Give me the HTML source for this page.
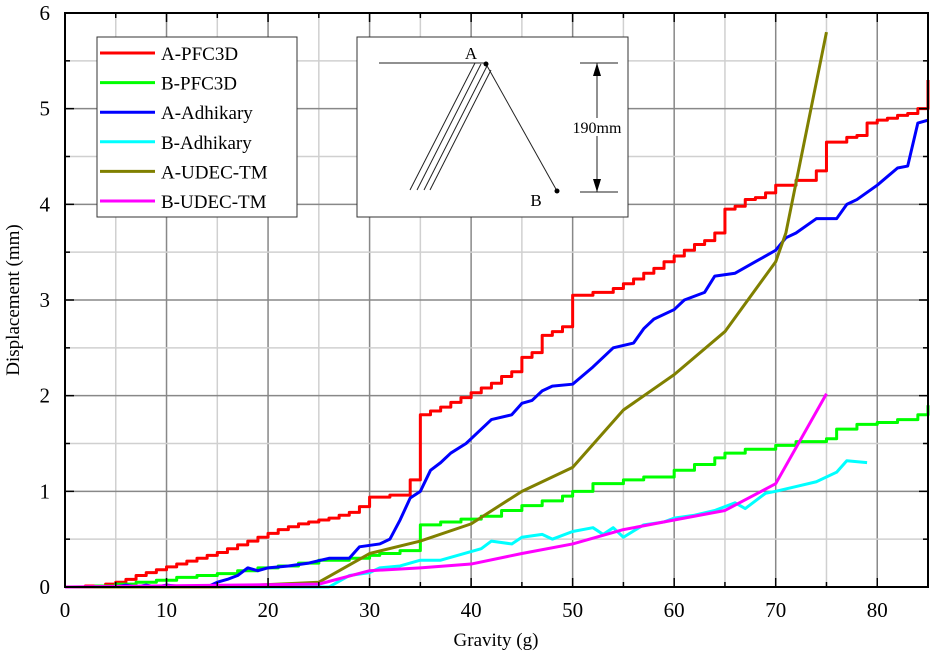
<!DOCTYPE html>
<html><head><meta charset="utf-8"><style>
html,body{margin:0;padding:0;background:#fff;}
svg{display:block;font-family:"Liberation Serif",serif;}
</style></head><body>
<svg id="chart" width="931" height="661" viewBox="0 0 931 661">
<g id="grid"></g>
<g id="series"></g>
<rect x="65" y="13" width="863" height="574" fill="none" stroke="#000" stroke-width="2"/>
<g id="ticks"></g>
<text x="496" y="646" text-anchor="middle" font-size="19">Gravity (g)</text>
<text transform="translate(19,300) rotate(-90)" text-anchor="middle" font-size="19">Displacement (mm)</text>
<g>
<rect x="97" y="37" width="200" height="180" fill="#fff" stroke="#333" stroke-width="1"/>
<g id="legend-items"></g>
</g>
<g>
<rect x="357" y="37" width="271" height="180" fill="#fff" stroke="#333" stroke-width="1"/>
<line x1="379" y1="63" x2="486" y2="63" stroke="#222" stroke-width="1"/>
<line x1="486" y1="64" x2="557" y2="191" stroke="#222" stroke-width="1"/>
<line x1="410" y1="190" x2="475" y2="63" stroke="#222"/>
<line x1="417" y1="190" x2="481" y2="64" stroke="#222"/>
<line x1="424" y1="190" x2="487" y2="66" stroke="#222"/>
<line x1="430" y1="190" x2="491" y2="70" stroke="#222"/>
<circle cx="486" cy="64" r="2.5" fill="#000"/>
<circle cx="557" cy="191" r="2.5" fill="#000"/>
<text x="471" y="59" font-size="17" text-anchor="middle">A</text>
<text x="536" y="206" font-size="17" text-anchor="middle">B</text>
<line x1="580" y1="63" x2="618" y2="63" stroke="#222"/>
<line x1="580" y1="192" x2="618" y2="192" stroke="#222"/>
<line x1="597" y1="63" x2="597" y2="192" stroke="#222"/>
<polygon points="597,63 593,76 601,76" fill="#000"/>
<polygon points="597,192 593,179 601,179" fill="#000"/>
<rect x="573" y="118" width="48" height="18" fill="#fff"/>
<text x="597" y="133" font-size="16" text-anchor="middle">190mm</text>
</g>
</svg>
<script>
const xTicks=[0,10,20,30,40,50,60,70,80];
const yTicks=[0,1,2,3,4,5,6];
const seriesNames=["A-PFC3D","B-PFC3D","A-Adhikary","B-Adhikary","A-UDEC-TM","B-UDEC-TM"];
const seriesColors=["#ff0000","#00ff00","#0000ff","#00ffff","#808000","#ff00ff"];
const redX=[0,2,4,5,6,7,8,9,10,11,12,13,14,15,16,17,18,19,20,21,22,23,24,25,26,27,28,29,30,32,34,35,36,37,38,39,40,41,42,43,44,45,46,47,48,49,50,52,54,55,56,57,58,59,60,61,62,63,64,65,66,67,68,69,70,72,74,75,77,78,79,80,81,82,83,84,85];
const redY=[0,0.01,0.03,0.05,0.08,0.12,0.15,0.18,0.21,0.24,0.27,0.3,0.33,0.36,0.4,0.44,0.48,0.52,0.56,0.6,0.63,0.66,0.68,0.7,0.72,0.75,0.78,0.84,0.94,0.96,1.12,1.8,1.84,1.88,1.93,1.98,2.03,2.08,2.13,2.2,2.25,2.4,2.45,2.63,2.67,2.72,3.05,3.08,3.12,3.17,3.22,3.28,3.33,3.4,3.46,3.52,3.58,3.62,3.7,3.95,3.98,4.05,4.07,4.12,4.2,4.25,4.35,4.65,4.7,4.72,4.85,4.88,4.9,4.93,4.95,5.0,5.3];
const greenX=[0,3,5,7,9,11,13,15,17,19,21,23,25,28,30,31,33,35,37,39,41,43,45,47,49,50,52,55,57,60,62,64,65,67,70,72,75,76,78,80,82,84,85];
const greenY=[0,0.01,0.03,0.05,0.07,0.1,0.12,0.14,0.17,0.2,0.22,0.25,0.28,0.3,0.33,0.35,0.38,0.65,0.68,0.71,0.74,0.8,0.85,0.9,0.95,1.0,1.08,1.12,1.15,1.22,1.28,1.35,1.4,1.44,1.48,1.52,1.55,1.65,1.7,1.72,1.75,1.8,1.9];
const blueX=[0,5,6,7,8,9,10,12,14,15,16,17,18,19,20,22,24,26,28,29,31,32,33,34,35,36,37,38,39.5,40.5,42,44,45,46,47,48,50,52,54,56,57,58,60,61,63,64,66,68,70,71,72,74,76,77,78,80,82,83,84,85];
const blueY=[0,0,0.02,0,0.02,0,0.02,0,0,0.05,0.08,0.12,0.2,0.17,0.2,0.22,0.25,0.3,0.3,0.42,0.45,0.5,0.7,0.93,1.0,1.22,1.3,1.4,1.5,1.6,1.75,1.8,1.92,1.95,2.05,2.1,2.12,2.3,2.5,2.55,2.7,2.8,2.9,3.0,3.08,3.25,3.28,3.4,3.52,3.65,3.7,3.85,3.85,4.0,4.05,4.2,4.38,4.4,4.85,4.88];
const cyanX=[0,26,28,30,31,33,35,37,40,41,42,44,45,47,48,50,52,53,54,55,57,59,60,62,64,66,67,69,70,72,74,76,77,79];
const cyanY=[0,0,0.12,0.15,0.2,0.22,0.28,0.28,0.37,0.4,0.48,0.45,0.52,0.55,0.5,0.58,0.62,0.55,0.62,0.52,0.65,0.68,0.72,0.75,0.8,0.88,0.82,0.98,1.0,1.05,1.1,1.2,1.32,1.3];
const oliveX=[0,15,25,30,35,40,45,50,55,60,65,70,71,75];
const oliveY=[0,0,0.05,0.35,0.48,0.66,1.0,1.25,1.85,2.22,2.67,3.4,3.7,5.8];
const magentaX=[0,25,30,35,40,45,50,55,60,65,70,75];
const magentaY=[0,0.03,0.17,0.2,0.24,0.35,0.45,0.6,0.7,0.8,1.08,2.02];
const allX=[redX,greenX,blueX,cyanX,oliveX,magentaX];
const allY=[redY,greenY,blueY,cyanY,oliveY,magentaY];
const stepped=[true,true,false,false,false,false];

const NS="http://www.w3.org/2000/svg";
const X0=65,X1=928,XMAX=85,Y0=587,Y1=13,YMAX=6;
function sx(v){return X0+(X1-X0)*v/XMAX;}
function sy(v){return Y0-(Y0-Y1)*v/YMAX;}
function mk(tag,attrs,parent){const e=document.createElementNS(NS,tag);for(const k in attrs)e.setAttribute(k,attrs[k]);parent.appendChild(e);return e;}
const grid=document.getElementById('grid'),ticks=document.getElementById('ticks'),ser=document.getElementById('series');
for(let v=5;v<XMAX;v+=5){const major=v%10===0;
 const l=mk('line',{x1:sx(v),x2:sx(v),y1:Y1,y2:Y0,stroke:major?'#888':'#d0d0d0','stroke-width':1.5},grid);
 
 
 mk('line',{x1:sx(v),x2:sx(v),y1:Y1,y2:Y1+(major?9:5),stroke:'#000','stroke-width':1.5},ticks);
 mk('line',{x1:sx(v),x2:sx(v),y1:Y0,y2:Y0-(major?9:5),stroke:'#000','stroke-width':1.5},ticks);}
for(let v=0.5;v<YMAX;v+=0.5){const major=Math.abs(v-Math.round(v))<1e-6;
 const l=mk('line',{x1:X0,x2:X1,y1:sy(v),y2:sy(v),stroke:major?'#888':'#d0d0d0','stroke-width':1.5},grid);
 
 
 mk('line',{x1:X0,x2:X0+(major?9:5),y1:sy(v),y2:sy(v),stroke:'#000','stroke-width':1.5},ticks);
 mk('line',{x1:X1,x2:X1-(major?9:5),y1:sy(v),y2:sy(v),stroke:'#000','stroke-width':1.5},ticks);}
xTicks.forEach(v=>{const t=mk('text',{x:sx(v),y:617,'text-anchor':'middle','font-size':21},ticks);t.textContent=v;
 
 });
yTicks.forEach(v=>{const t=mk('text',{x:50,y:sy(v)+7,'text-anchor':'end','font-size':21},ticks);t.textContent=v;
 
 });
allX.forEach((xs,i)=>{const ys=allY[i];let d='';
 for(let j=0;j<xs.length;j++){
  if(j===0)d+='M'+sx(xs[j])+','+sy(ys[j]);
  else if(stepped[i])d+='L'+sx(xs[j])+','+sy(ys[j-1])+'L'+sx(xs[j])+','+sy(ys[j]);
  else d+='L'+sx(xs[j])+','+sy(ys[j]);}
 const p=mk('path',{d:d,fill:'none',stroke:seriesColors[i],'stroke-width':3,'stroke-linejoin':'round'},ser);
 
 });
const leg=document.getElementById('legend-items');
seriesNames.forEach((n,i)=>{const y=53+i*29.6;
 const g=mk('g',{},leg);
 
 
 mk('line',{x1:100,x2:155,y1:y,y2:y,stroke:seriesColors[i],'stroke-width':3},g);
 const t=mk('text',{x:161,y:y+7,'font-size':19},g);t.textContent=n;});
</script>
</body></html>
